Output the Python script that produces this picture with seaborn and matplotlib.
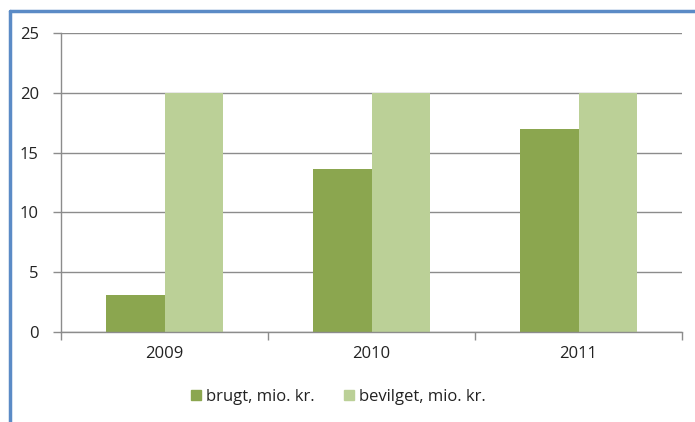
import matplotlib
matplotlib.use("Agg")
import matplotlib.pyplot as plt
from matplotlib.lines import Line2D
import seaborn as sns
import pandas as pd

years = ["2009", "2010", "2011"]
brugt = [3.1, 13.6, 17.0]
bevilget = [20, 20, 20]
series_names = ["brugt, mio. kr.", "bevilget, mio. kr."]
colors = ["#8BA64F", "#BBD097"]
yticks = [0, 5, 10, 15, 20, 25]

df = pd.DataFrame({
    "year": years * 2,
    "value": brugt + bevilget,
    "series": [series_names[0]] * 3 + [series_names[1]] * 3,
})

sns.set_style("white")
plt.rcParams["font.family"] = ["Open Sans", "DejaVu Sans"]

fig = plt.figure(figsize=(6.95, 4.22), dpi=100)
ax = fig.add_axes([61 / 695, 1 - 332 / 422, (682 - 61) / 695, (332 - 33) / 422])

sns.barplot(data=df, x="year", y="value", hue="series", palette=colors,
            width=0.57, saturation=1, linewidth=0, ax=ax, legend=False)

ax.set_ylim(0, 25)
ax.set_xlim(-0.5, 2.5)
ax.set_yticks(yticks)
ax.set_yticklabels([str(t) for t in yticks])
ax.set_xlabel("")
ax.set_ylabel("")

ax.grid(axis="y", color="#8C8C8C", linewidth=1)
ax.set_axisbelow(True)
for s in ["top", "right"]:
    ax.spines[s].set_visible(False)
for s in ["left", "bottom"]:
    ax.spines[s].set_color("#8C8C8C")
    ax.spines[s].set_linewidth(1)

ax.tick_params(axis="y", which="major", length=6, color="#8C8C8C", width=1,
               labelsize=12, labelcolor="#222222", pad=10, left=True)
ax.tick_params(axis="x", which="major", length=0, labelsize=12,
               labelcolor="#222222", pad=10)
ax.set_xticks([-0.5, 0.5, 1.5, 2.5], minor=True)
ax.tick_params(axis="x", which="minor", length=6, color="#8C8C8C", width=1,
               bottom=True)

handles = [plt.Rectangle((0, 0), 1, 1, color=c) for c in colors]
fig.legend(handles, series_names, loc="center", bbox_to_anchor=(338.5 / 695, 1 - 397 / 422),
           ncol=2, frameon=False, fontsize=12, handlelength=0.6, handleheight=0.6,
           handletextpad=0.3, columnspacing=1.75, labelcolor="#222222")

# outer chart frame (blue)
fig.add_artist(Line2D([10 / 695, 1.0], [1 - 11 / 422, 1 - 11 / 422],
                      transform=fig.transFigure, color="#5B8BC6", linewidth=2.5))
fig.add_artist(Line2D([10 / 695, 10 / 695], [1 - 11 / 422, 0.0],
                      transform=fig.transFigure, color="#5B8BC6", linewidth=2.5))

fig.savefig("out.png", dpi=100)
